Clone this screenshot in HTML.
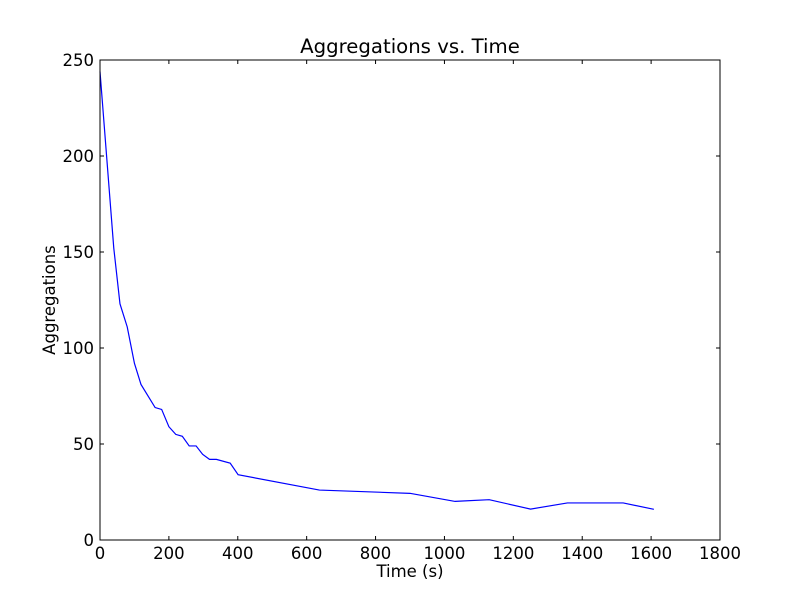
<!DOCTYPE html>
<html><head><meta charset="utf-8"><style>
body{margin:0;background:#fff;}
svg text{font-family:"DejaVu Sans","Liberation Sans",sans-serif;fill:#000;}
</style></head><body>
<svg id="chart" width="800" height="600" xmlns="http://www.w3.org/2000/svg">
<rect x="0" y="0" width="800" height="600" fill="#fff"/>
<g id="plot"></g>
</svg>
<script>
const timeValues=[0,40,58,79,100,119,160,179,200,220,239,259,279,298,318,338,378,401,637,900,1031,1130,1250,1357,1519,1608];
const aggValues=[244,152,123,111,92,81,69,68,59,55,54,49,49,44.6,42,42,40,34,26,24.3,20.1,21,16.1,19.3,19.3,16];
const xTicks=[0,200,400,600,800,1000,1200,1400,1600,1800];
const yTicks=[0,50,100,150,200,250];
const L=100,R=720,T=60,B=540,xMax=1800,yMax=250;
const xs=v=>L+(R-L)*v/xMax, ys=v=>B-(B-T)*v/yMax;
const NS="http://www.w3.org/2000/svg", g=document.getElementById('plot');
function mk(t,a){const e=document.createElementNS(NS,t);for(const k in a)e.setAttribute(k,a[k]);g.appendChild(e);return e;}
let d=timeValues.map((t,i)=>(i?'L':'M')+xs(t).toFixed(2)+','+ys(aggValues[i]).toFixed(2)).join('');
let line=mk('path',{d:d,fill:'none',stroke:'#0000ff','stroke-width':1.2});


xTicks.forEach(v=>{const x=xs(v);
 let t1=mk('line',{x1:x,x2:x,y1:B,y2:B-4,stroke:'#000'});
 
 
 let t2=mk('line',{x1:x,x2:x,y1:T,y2:T+4,stroke:'#000'});
 
 
 let tx=mk('text',{x:x,y:B+19,'text-anchor':'middle','font-size':16.5});tx.textContent=v;
 
 
});
yTicks.forEach(v=>{const y=ys(v);
 let t1=mk('line',{x1:L,x2:L+4,y1:y,y2:y,stroke:'#000'});
 
 
 let t2=mk('line',{x1:R,x2:R-4,y1:y,y2:y,stroke:'#000'});
 
 
 let tx=mk('text',{x:L-6,y:y+6,'text-anchor':'end','font-size':16.5});tx.textContent=v;
 
 
});
let fr=mk('rect',{x:L,y:T,width:R-L,height:B-T,fill:'none',stroke:'#000','stroke-width':1});


let ti=mk('text',{x:410,y:53,'text-anchor':'middle','font-size':19.7});ti.textContent='Aggregations vs. Time';


let xl=mk('text',{x:410,y:577,'text-anchor':'middle','font-size':16.5});xl.textContent='Time (s)';


let yl=mk('text',{x:55,y:300,'text-anchor':'middle','font-size':16.5,transform:'rotate(-90 55 300)'});yl.textContent='Aggregations';


</script>
</body></html>
